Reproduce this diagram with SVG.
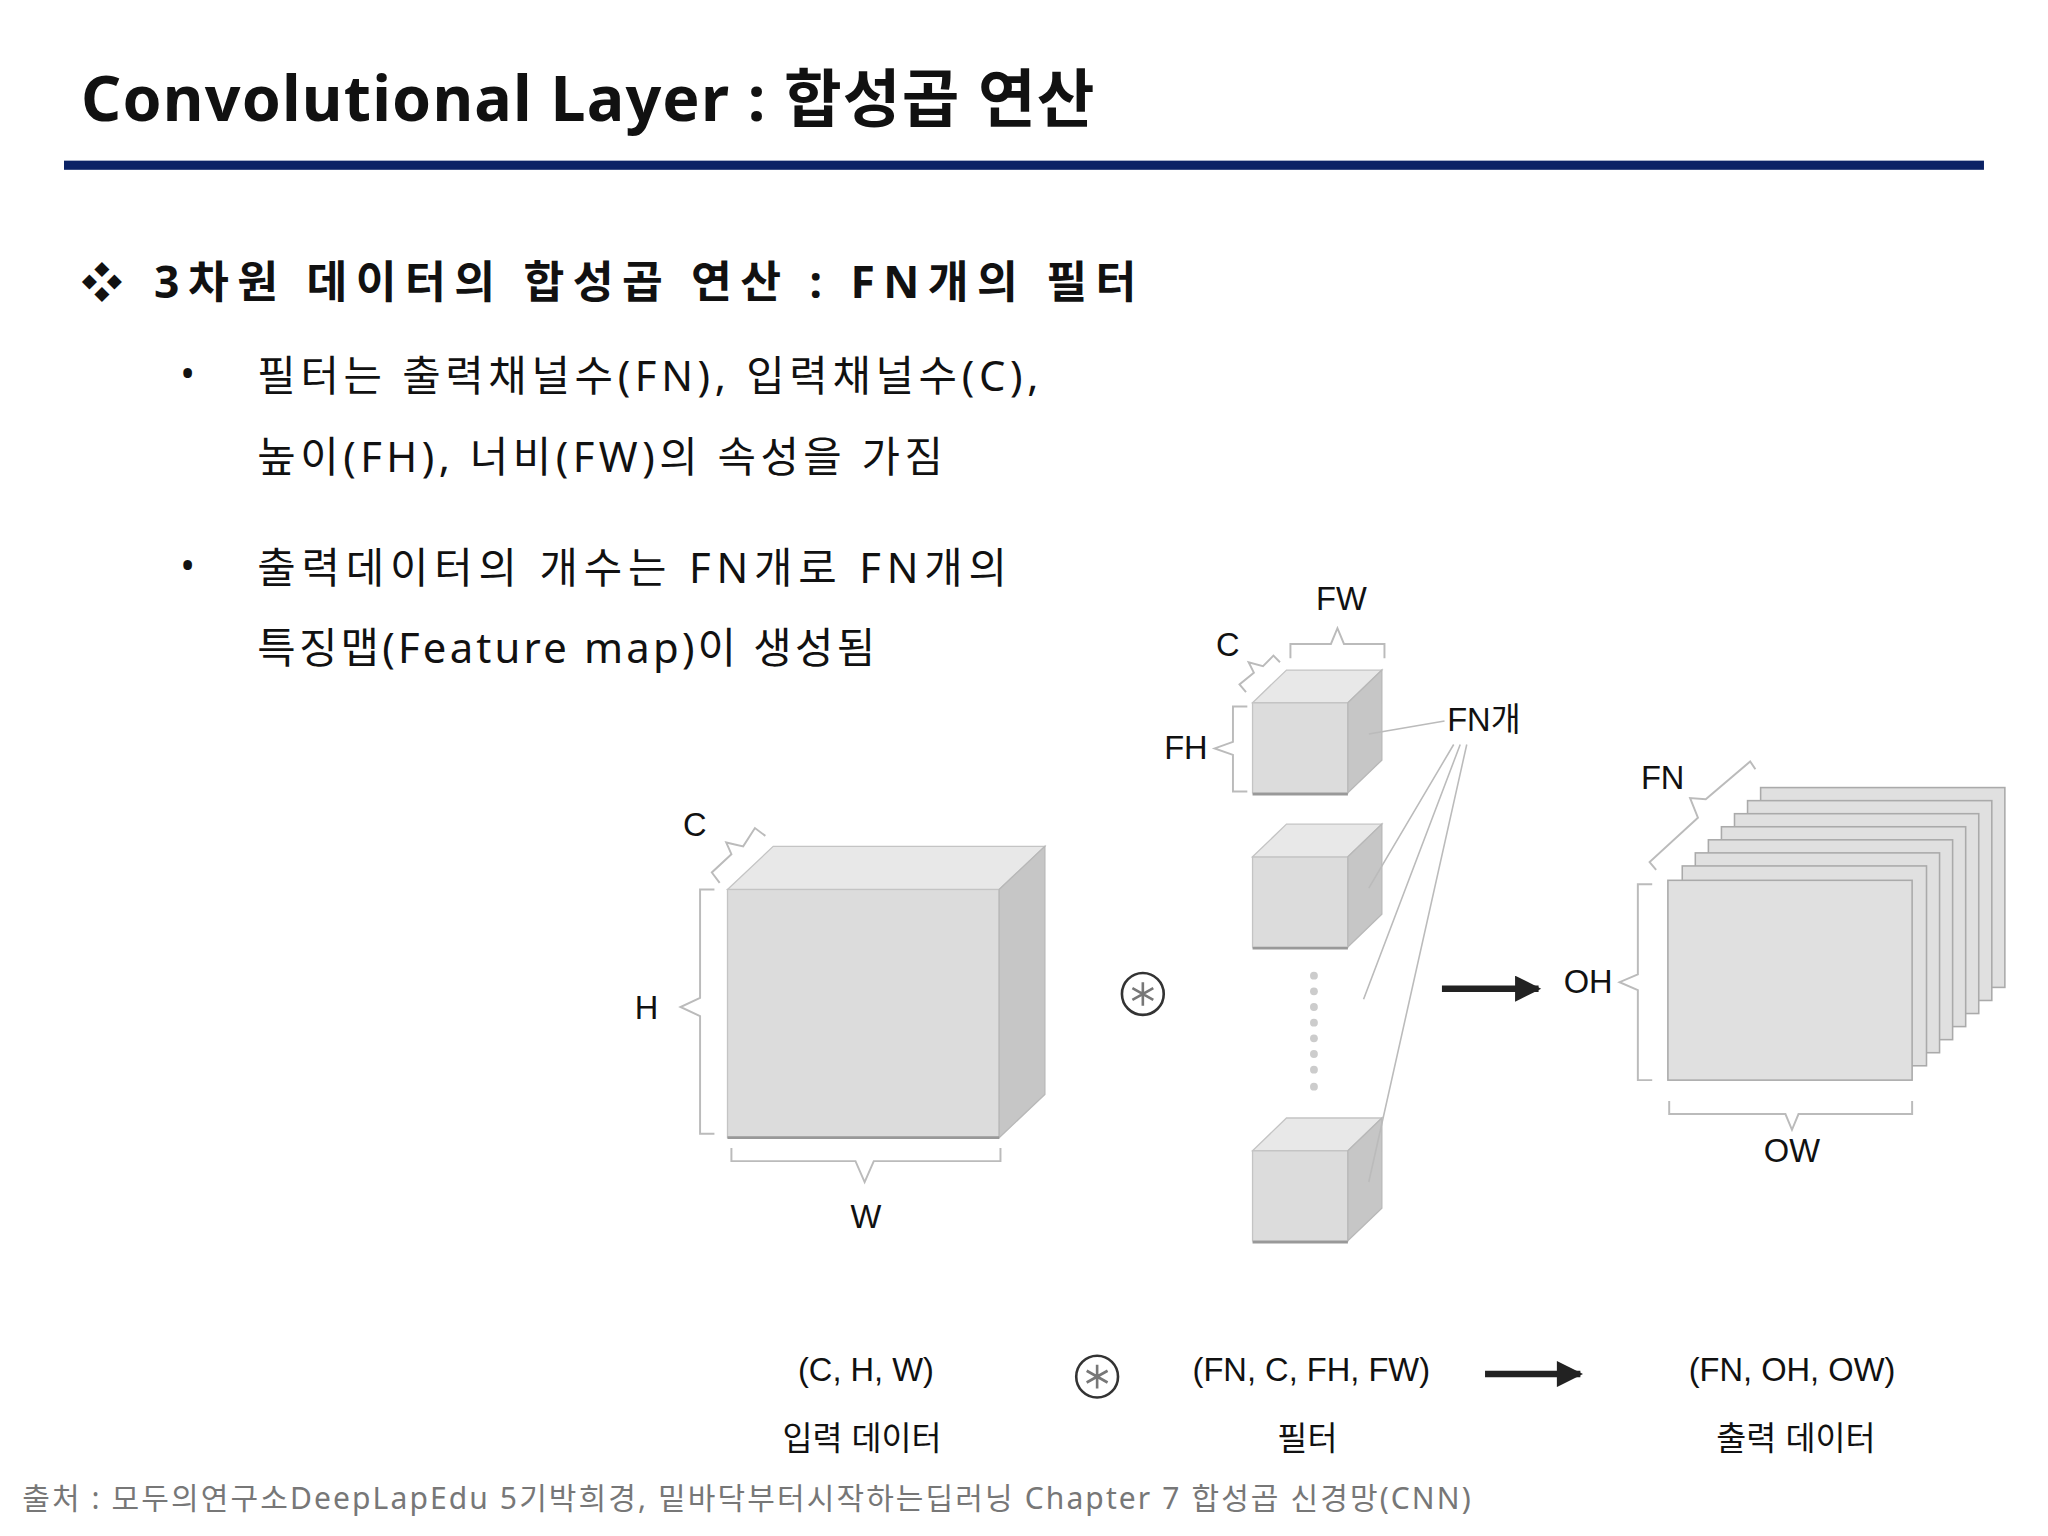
<svg xmlns="http://www.w3.org/2000/svg" width="2048" height="1536" viewBox="0 0 2048 1536">
<style>
.k{font-family:"Noto Sans","Noto Sans CJK KR",sans-serif;fill:#111}
.a{font-family:"Liberation Sans","Noto Sans CJK KR",sans-serif;fill:#111;font-size:25px}
.br{fill:none;stroke:#bbb;stroke-width:1.5}
.fr{fill:#dcdcdc;stroke:#c4c4c4;stroke-width:1}
.tp{fill:#e8e8e8;stroke:#c4c4c4;stroke-width:1}
.rt{fill:#c6c6c6;stroke:#b8b8b8;stroke-width:1}
.ln{stroke:#bbb;stroke-width:1.2;fill:none}
.sh{fill:#e0e0e0;stroke:#aaa;stroke-width:1.2}
</style>
<defs>
<marker id="ah" viewBox="0 0 10 10" refX="9" refY="5" markerWidth="5" markerHeight="4" orient="auto"><path d="M0,0L10,5L0,10z" fill="#222"/></marker>
<g id="cube"><rect class="fr" x="0" y="0" width="73" height="69"/><path class="tp" d="M0,0L26,-25L99,-25L73,0z"/><path class="rt" d="M73,0L99,-25L99,44L73,69z"/><line x1="0" y1="70" x2="73" y2="70" stroke="#999" stroke-width="2"/></g>
<g id="sym"><circle r="16" fill="#fff" stroke="#333" stroke-width="2"/><path d="M0,-9V9M-8,-4.5L8,4.5M-8,4.5L8,-4.5" stroke="#777" stroke-width="2"/></g>
</defs>
<rect width="2048" height="1536" fill="#fff"/>
<g transform="scale(1.3061)">
<g id="title"><text class="k" x="62" y="93" font-size="48" font-weight="bold" textLength="776" lengthAdjust="spacing">Convolutional Layer : 합성곱 연산</text><rect x="49" y="123" width="1470" height="7" fill="#0b2265"/></g>
<g id="text">
<text class="k" x="62" y="228" font-size="32" font-weight="bold">❖</text>
<text class="k" x="118" y="228" font-size="34" font-weight="bold" textLength="752" lengthAdjust="spacing">3차원 데이터의 합성곱 연산 : FN개의 필터</text>
<text class="k" x="138" y="297" font-size="30">•</text>
<text class="k" x="197" y="299" font-size="32" textLength="598" lengthAdjust="spacing">필터는 출력채널수(FN), 입력채널수(C),</text>
<text class="k" x="197" y="361" font-size="32" textLength="525" lengthAdjust="spacing">높이(FH), 너비(FW)의 속성을 가짐</text>
<text class="k" x="138" y="444" font-size="30">•</text>
<text class="k" x="197" y="446" font-size="32" textLength="574" lengthAdjust="spacing">출력데이터의 개수는 FN개로 FN개의</text>
<text class="k" x="197" y="508" font-size="32" textLength="473" lengthAdjust="spacing">특징맵(Feature map)이 생성됨</text>
<text class="k" x="17" y="1155" font-size="23" style="fill:#777" textLength="1109" lengthAdjust="spacing">출처 : 모두의연구소DeepLapEdu 5기박희경, 밑바닥부터시작하는딥러닝 Chapter 7 합성곱 신경망(CNN)</text>
</g>
<g id="input">
<rect class="fr" x="557" y="681" width="208" height="190"/>
<path class="tp" d="M557,681L592,648L800,648L765,681z"/>
<path class="rt" d="M765,681L800,648L800,838L765,871z"/>
<line x1="557" y1="871" x2="765" y2="871" stroke="#999" stroke-width="2"/>
<path class="br" d="M547,681H536V764L521,771L536,778V868H547"/>
<path class="br" d="M560,879V889H655L662,905L669,889H766V879"/>
<path class="br" d="M551,676L545,668L560,654L556,645L569,648L578,634L586,640"/>
<text class="a" x="532" y="640" text-anchor="middle">C</text>
<text class="a" x="495" y="780" text-anchor="middle">H</text>
<text class="a" x="663" y="940" text-anchor="middle">W</text>
</g>
<g id="op1"><use href="#sym" x="875" y="761"/></g>
<g id="filters">
<use href="#cube" x="959" y="538"/>
<use href="#cube" x="959" y="656"/>
<use href="#cube" x="959" y="881"/>
<g fill="#ccc"><circle cx="1006" cy="747" r="3"/><circle cx="1006" cy="759" r="3"/><circle cx="1006" cy="771" r="3"/><circle cx="1006" cy="783" r="3"/><circle cx="1006" cy="795" r="3"/><circle cx="1006" cy="807" r="3"/><circle cx="1006" cy="819" r="3"/><circle cx="1006" cy="832" r="3"/></g>
<path class="br" d="M988,504V493H1019L1024,481L1029,493H1060V504"/>
<path class="br" d="M955,541H944V568L930,573L944,578V606H955"/>
<path class="br" d="M954,530L949,524L960,515L956,507L967,510L975,502L980,507"/>
<text class="a" x="940" y="502" text-anchor="middle">C</text>
<text class="a" x="1027" y="467" text-anchor="middle">FW</text>
<text class="a" x="908" y="581" text-anchor="middle">FH</text>
<text class="a" x="1108" y="560">FN개</text>
</g>
<g id="connectors">
<path class="ln" d="M1106,552L1048,562M1113,570L1048,680M1118,570L1044,765M1123,570L1048,905"/>
<line x1="1104" y1="757" x2="1178" y2="757" stroke="#222" stroke-width="5" marker-end="url(#ah)"/>
<line x1="1137" y1="1052" x2="1210" y2="1052" stroke="#222" stroke-width="5" marker-end="url(#ah)"/>
</g>
<g id="output">
<rect class="sh" x="1348" y="603" width="187" height="153"/>
<rect class="sh" x="1338" y="613" width="187" height="153"/>
<rect class="sh" x="1328" y="623" width="187" height="153"/>
<rect class="sh" x="1318" y="633" width="187" height="153"/>
<rect class="sh" x="1308" y="643" width="187" height="153"/>
<rect class="sh" x="1298" y="653" width="187" height="153"/>
<rect class="sh" x="1288" y="663" width="187" height="153"/>
<rect class="sh" x="1277" y="674" width="187" height="153" fill="#dcdcdc"/>
<path class="br" d="M1265,677H1254V746L1240,752L1254,758V827H1265"/>
<path class="br" d="M1278,843V853H1367L1372,865L1377,853H1464V843"/>
<path class="br" d="M1268,666L1263,660L1300,626L1294,611L1306,612L1340,583L1344,589"/>
<text class="a" x="1273" y="604" text-anchor="middle">FN</text>
<text class="a" x="1216" y="760" text-anchor="middle">OH</text>
<text class="a" x="1372" y="890" text-anchor="middle">OW</text>
</g>
<g id="bottom">
<text class="a" x="663" y="1057" text-anchor="middle">(C, H, W)</text>
<text class="a" x="660" y="1110" text-anchor="middle">입력 데이터</text>
<use href="#sym" x="840" y="1054"/>
<text class="a" x="1004" y="1057" text-anchor="middle">(FN, C, FH, FW)</text>
<text class="a" x="1001" y="1110" text-anchor="middle">필터</text>
<text class="a" x="1372" y="1057" text-anchor="middle">(FN, OH, OW)</text>
<text class="a" x="1375" y="1110" text-anchor="middle">출력 데이터</text>
</g>
</g>
</svg>
